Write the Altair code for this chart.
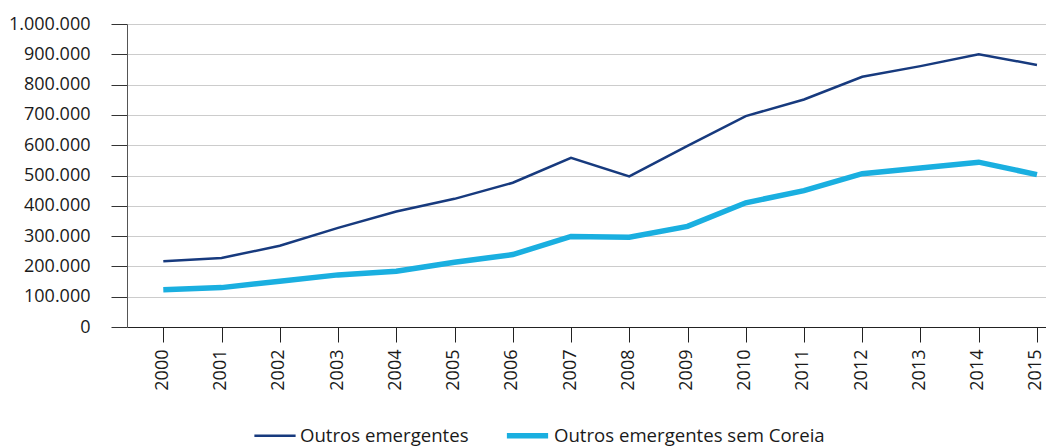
import altair as alt
import pandas as pd

anos = list(range(2000, 2016))
outros_emergentes = [217000, 228000, 268000, 327000, 381000, 423000, 476000, 558000,
                     497000, 598000, 696000, 751000, 826000, 861000, 900000, 865000]
sem_coreia = [123000, 130000, 151000, 172000, 184000, 214000, 239000, 299000,
              296000, 332000, 410000, 450000, 506000, 525000, 544000, 503000]
series = ["Outros emergentes", "Outros emergentes sem Coreia"]
y_ticks = list(range(0, 1000001, 100000))

rows = []
for a, v in zip(anos, outros_emergentes):
    rows.append({"ano": a, "valor": v, "serie": series[0]})
for a, v in zip(anos, sem_coreia):
    rows.append({"ano": a, "valor": v, "serie": series[1]})
df = pd.DataFrame(rows)

FONT = "Open Sans"
TXT = "#1a1a1a"
legend_cfg = alt.Legend(
    title=None, orient="none", direction="horizontal", legendX=126, legendY=388,
    symbolType="stroke", symbolSize=1700, labelFontSize=18.6, labelFont=FONT,
    labelColor=TXT, labelOffset=3, columnPadding=26, padding=0, labelLimit=0,
)

chart = alt.Chart(df).mark_line(strokeCap="butt").encode(
    x=alt.X("ano:Q",
            scale=alt.Scale(domain=[1999.3768, 2015.155], nice=False, zero=False),
            axis=alt.Axis(values=anos, format="d", labelAngle=270, labelAlign="right",
                          labelBaseline="middle", tickSize=15, labelPadding=7,
                          labelOffset=-1,
                          grid=False, domainColor="#222222", tickColor="#222222",
                          labelFontSize=18, labelFont=FONT, labelColor=TXT,
                          title=None, labelFlush=False, labelOverlap=False)),
    y=alt.Y("valor:Q",
            scale=alt.Scale(domain=[0, 1000000], nice=False),
            axis=alt.Axis(values=y_ticks, tickSize=16, labelPadding=21,
                          labelExpr="replace(format(datum.value, ','), regexp(',', 'g'), '.')",
                          gridColor="#cccccc", gridWidth=1.2, domainColor="#555555",
                          tickColor="#333333", labelFontSize=18, labelFont=FONT,
                          labelColor=TXT, title=None, labelOverlap=False)),
    color=alt.Color("serie:N", scale=alt.Scale(domain=series, range=["#173a7e", "#1aafe0"]),
                    legend=legend_cfg),
    strokeWidth=alt.StrokeWidth("serie:N", scale=alt.Scale(domain=series, range=[2.5, 5.5]),
                                legend=legend_cfg),
).properties(
    width=919, height=303,
    autosize=alt.AutoSizeParams(type="none"),
    padding={"left": 119, "top": 16, "right": 0, "bottom": 119},
).configure_view(stroke=None)

chart.save("out.html", embed_options={"renderer": "svg", "actions": False})
